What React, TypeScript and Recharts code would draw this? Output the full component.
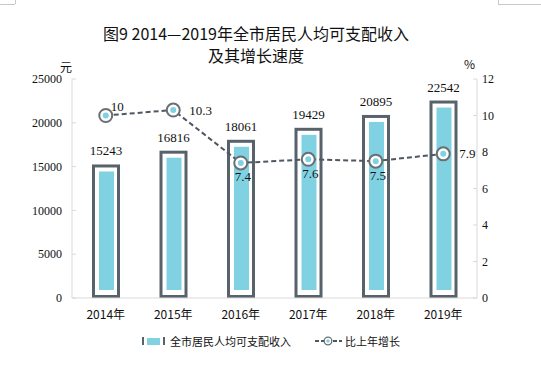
import { ComposedChart, Bar, Line, XAxis, YAxis, LabelList } from "recharts";

const years = ["2014年", "2015年", "2016年", "2017年", "2018年", "2019年"];
const income = [15243, 16816, 18061, 19429, 20895, 22542];
const growth = [10, 10.3, 7.4, 7.6, 7.5, 7.9];
const leftTicks = [0, 5000, 10000, 15000, 20000, 25000];
const rightTicks = [0, 2, 4, 6, 8, 10, 12];

const data = years.map((year, i) => ({
  year,
  income: income[i],
  growth: growth[i],
}));

const BORDER = "#58626b";
const CYAN = "#80d1e2";
const LINE = "#4f5761";
const SERIF = "'Liberation Serif', 'Times New Roman', serif";
const SANS = "'Noto Sans CJK SC', 'Noto Sans', sans-serif";

// where each growth label sits relative to its point
const growthLabelPlace = ["topRight", "right", "below", "below", "below", "right"];

function FramedBar(props: any) {
  const { x, y, width, height } = props;
  if (!height || height <= 0) return null;
  return (
    <g>
      <rect
        x={x + 1.5}
        y={y + 1.5}
        width={width - 3}
        height={height - 3}
        fill="#fff"
        stroke={BORDER}
        strokeWidth={3}
      />
      <rect
        x={x + 7}
        y={y + 7}
        width={width - 13}
        height={height - 15}
        fill={CYAN}
      />
    </g>
  );
}

function RingDot(props: any) {
  const { cx, cy, index } = props;
  return (
    <g key={"dot-" + index}>
      <circle cx={cx} cy={cy} r={6.5} fill="#fff" stroke="#6a6f74" strokeWidth={2} />
      <circle cx={cx} cy={cy} r={3} fill={CYAN} />
    </g>
  );
}

function GrowthLabel(props: any) {
  const { x, y, value, index } = props;
  const place = growthLabelPlace[index];
  let tx = x;
  let ty = y;
  let anchor: "start" | "middle" = "middle";
  if (place === "topRight") {
    tx = x + 5;
    ty = y - 9;
    anchor = "start";
  } else if (place === "right") {
    tx = x + 16;
    anchor = "start";
  } else {
    tx = x + 2;
    ty = y + 14;
  }
  return (
    <text
      x={tx}
      y={ty}
      textAnchor={anchor}
      dominantBaseline="central"
      fontFamily={SERIF}
      fontSize={13}
      fill="#111"
    >
      {value}
    </text>
  );
}

export default function App() {
  return (
    <div
      style={{
        position: "absolute",
        left: 0,
        top: 0,
        width: 541,
        height: 377,
        background: "#fff",
        fontFamily: SANS,
      }}
    >
      <div style={{ position: "absolute", left: 0, top: 4, width: 15, borderTop: "1px solid #c8c8c8" }} />
      <div style={{ position: "absolute", left: 15, top: 0, height: 4, borderLeft: "1px solid #c8c8c8" }} />
      <div style={{ position: "absolute", left: 498, top: 4, width: 43, borderTop: "1px solid #c8c8c8" }} />
      <div style={{ position: "absolute", left: 498, top: 0, height: 4, borderLeft: "1px solid #c8c8c8" }} />

      <div
        style={{
          position: "absolute",
          left: 0,
          top: 22,
          width: 512,
          textAlign: "center",
          fontSize: 16,
          lineHeight: "22px",
          color: "#111",
        }}
      >
        图9 2014—2019年全市居民人均可支配收入
        <br />
        及其增长速度
      </div>
      <div style={{ position: "absolute", left: 60, top: 58, fontSize: 12, color: "#111" }}>元</div>
      <div style={{ position: "absolute", left: 464, top: 55, fontSize: 12, color: "#111" }}>%</div>

      <ComposedChart
        width={541}
        height={377}
        data={data}
        margin={{ top: 79, right: 24, bottom: 59, left: 12 }}
        style={{ position: "absolute", left: 0, top: 0 }}
      >
        <XAxis
          dataKey="year"
          axisLine={{ stroke: "#d9d9d9" }}
          tickLine={false}
          height={20}
          tick={{ fontSize: 12, fill: "#111", fontFamily: SANS }}
          tickMargin={6}
        />
        <YAxis
          yAxisId="left"
          domain={[0, 25000]}
          ticks={leftTicks}
          width={60}
          axisLine={{ stroke: "#d9d9d9" }}
          tickLine={{ stroke: "#d9d9d9" }}
          tickSize={-4}
          tickMargin={14}
          tick={{ fontSize: 12, fill: "#111", fontFamily: SERIF }}
        />
        <YAxis
          yAxisId="right"
          orientation="right"
          domain={[0, 12]}
          ticks={rightTicks}
          width={40}
          axisLine={{ stroke: "#d9d9d9" }}
          tickLine={{ stroke: "#d9d9d9" }}
          tickSize={-4}
          tickMargin={9}
          tick={{ fontSize: 12, fill: "#111", fontFamily: SERIF }}
        />
        <Bar
          yAxisId="left"
          dataKey="income"
          barSize={28}
          shape={FramedBar}
          isAnimationActive={false}
        >
          <LabelList
            dataKey="income"
            position="top"
            offset={9}
            style={{ fontSize: 13, fill: "#111", fontFamily: SERIF }}
          />
        </Bar>
        <Line
          yAxisId="right"
          dataKey="growth"
          stroke={LINE}
          strokeWidth={2}
          strokeDasharray="5 3"
          dot={RingDot}
          activeDot={false}
          isAnimationActive={false}
        >
          <LabelList dataKey="growth" content={GrowthLabel} />
        </Line>
      </ComposedChart>

      <div
        style={{
          position: "absolute",
          left: 141,
          top: 333,
          display: "flex",
          alignItems: "center",
          fontSize: 11,
          color: "#111",
          whiteSpace: "nowrap",
        }}
      >
        <svg width={26} height={10} style={{ marginRight: 3 }}>
          <rect x={1} y={1} width={2} height={8} fill={BORDER} />
          <rect x={6} y={2} width={13} height={7} fill={CYAN} />
          <rect x={22} y={1} width={2} height={8} fill={BORDER} />
        </svg>
        <span>全市居民人均可支配收入</span>
        <svg width={27} height={10} style={{ marginLeft: 24, marginRight: 3 }}>
          <line x1={0} y1={5} x2={27} y2={5} stroke={LINE} strokeWidth={2} strokeDasharray="4 2" />
          <circle cx={13} cy={5} r={3.8} fill="#fff" stroke="#6a6f74" strokeWidth={1.3} />
          <circle cx={13} cy={5} r={1.7} fill={CYAN} />
        </svg>
        <span>比上年增长</span>
      </div>
    </div>
  );
}
